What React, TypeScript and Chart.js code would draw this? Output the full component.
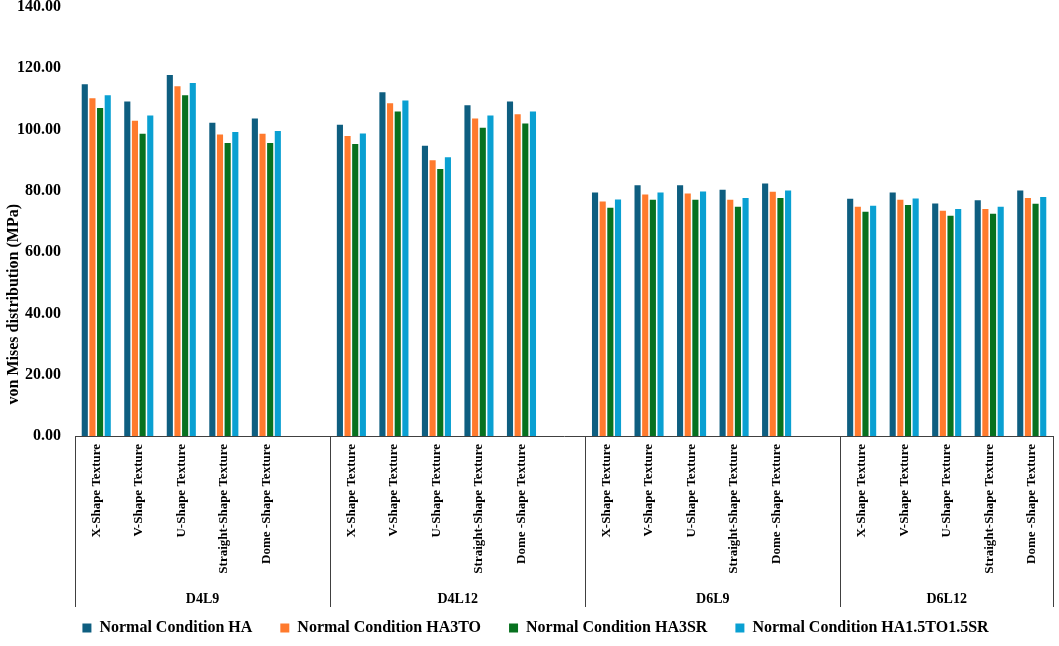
import { useEffect, useRef } from "react";
import { Chart, registerables } from "chart.js";

Chart.register(...registerables);

const FONT = '"Liberation Serif", "Times New Roman", serif';

// 群（下段ラベル）とテクスチャ（上段ラベル）
const groups = ["D4L9", "D4L12", "D6L9", "D6L12"];
const textures = [
    "X-Shape Texture",
    "V-Shape Texture",
    "U-Shape Texture",
    "Straight-Shape Texture",
    "Dome -Shape Texture",
];
const seriesNames = [
    "Normal Condition HA",
    "Normal Condition HA3TO",
    "Normal Condition HA3SR",
    "Normal Condition HA1.5TO1.5SR",
];
const colors = ["#0E5E80", "#FF7A2D", "#07711F", "#0AA0D2"];

// D4L9, D4L12, D6L9, D6L12 の順に 5 テクスチャずつ
const valuesHA = [
    114.8, 109.2, 117.8, 102.2, 103.6,
    101.6, 112.2, 94.7, 107.9, 109.2,
    79.5, 81.8, 81.8, 80.4, 82.4,
    77.4, 79.5, 75.9, 76.9, 80.1,
];
const valuesHA3TO = [
    110.2, 102.9, 114.1, 98.4, 98.6,
    97.9, 108.6, 90.0, 103.6, 105.0,
    76.5, 78.8, 79.1, 77.1, 79.7,
    74.8, 77.1, 73.5, 74.1, 77.7,
];
const valuesHA3SR = [
    107.0, 98.6, 111.2, 95.6, 95.6,
    95.3, 105.9, 87.1, 100.6, 102.0,
    74.5, 77.1, 77.1, 74.8, 77.7,
    73.2, 75.4, 71.9, 72.5, 75.8,
];
const valuesHA15 = [
    111.2, 104.6, 115.2, 99.2, 99.5,
    98.7, 109.5, 91.0, 104.6, 105.9,
    77.2, 79.5, 79.8, 77.7, 80.1,
    75.1, 77.5, 74.1, 74.8, 78.0,
];
const seriesValues = [valuesHA, valuesHA3TO, valuesHA3SR, valuesHA15];

// 群の間に空のカテゴリを 1 つ挟む
const labels: string[] = [];
groups.forEach((_, g) => {
    labels.push(...textures);
    if (g < groups.length - 1) labels.push("");
});
const withGaps = (vals: number[]) => {
    const out: (number | null)[] = [];
    groups.forEach((_, g) => {
        out.push(...vals.slice(g * textures.length, (g + 1) * textures.length));
        if (g < groups.length - 1) out.push(null);
    });
    return out;
};

// 下段の群ラベルと区切り線、縦軸タイトル
const groupAxisPlugin = {
    id: "groupAxis",
    afterDraw(chart: any) {
        const { ctx, chartArea, scales } = chart;
        const x = scales.x;
        const y = scales.y;
        const slot = x.getPixelForValue(1) - x.getPixelForValue(0);
        const step = textures.length + 1;
        const top = x.top;
        const bottom = x.bottom + 15;
        ctx.save();
        ctx.strokeStyle = "#404040";
        ctx.lineWidth = 1;
        const bounds: number[] = [];
        groups.forEach((_, g) => bounds.push(x.getPixelForValue(g * step) - slot / 2));
        bounds.push(chartArea.right);
        bounds.forEach((bx) => {
            const px = Math.round(bx) + 0.5;
            ctx.beginPath();
            ctx.moveTo(px, top);
            ctx.lineTo(px, bottom);
            ctx.stroke();
        });
        ctx.fillStyle = "#000";
        ctx.font = `bold 14px ${FONT}`;
        ctx.textAlign = "center";
        ctx.textBaseline = "middle";
        groups.forEach((name, g) => {
            ctx.fillText(name, (bounds[g] + bounds[g + 1]) / 2, x.bottom + 7);
        });
        // 縦軸タイトル
        ctx.font = `bold 16px ${FONT}`;
        ctx.translate(14, y.getPixelForValue(43));
        ctx.rotate(-Math.PI / 2);
        ctx.fillText("von Mises distribution (MPa)", 0, 0);
        ctx.restore();
    },
};

export default function App() {
    const canvasRef = useRef<HTMLCanvasElement>(null);

    useEffect(() => {
        if (!canvasRef.current) return;
        const ctx = canvasRef.current.getContext("2d");
        if (!ctx) return;

        const chart = new Chart(ctx, {
            type: "bar",
            data: {
                labels,
                datasets: seriesNames.map((name, i) => ({
                    label: name,
                    data: withGaps(seriesValues[i]),
                    backgroundColor: colors[i],
                    borderWidth: 0,
                    categoryPercentage: 0.72,
                    barPercentage: 0.8,
                })),
            },
            options: {
                responsive: false,
                animation: false,
                layout: { padding: { left: 18, right: 6, top: 0, bottom: 0 } },
                plugins: {
                    legend: {
                        position: "bottom",
                        labels: {
                            boxWidth: 9,
                            boxHeight: 9,
                            padding: 28,
                            color: "#000",
                            font: { family: FONT, size: 16, weight: "bold" },
                        },
                    },
                    tooltip: { enabled: false },
                },
                scales: {
                    x: {
                        grid: { display: false, drawTicks: false },
                        border: { display: true, color: "#404040", width: 1 },
                        ticks: {
                            autoSkip: false,
                            minRotation: 90,
                            maxRotation: 90,
                            padding: 8,
                            color: "#000",
                            font: { family: FONT, size: 13, weight: "bold" },
                        },
                        afterFit: (scale: any) => {
                            scale.height = 156;
                        },
                    },
                    y: {
                        min: 0,
                        max: 140,
                        grid: { display: false, drawTicks: false },
                        border: { display: false },
                        ticks: {
                            stepSize: 20,
                            padding: 14,
                            color: "#000",
                            font: { family: FONT, size: 16, weight: "bold" },
                            callback: (v: any) => Number(v).toFixed(2),
                        },
                        afterFit: (scale: any) => {
                            scale.width = 57;
                            scale.paddingTop = 7;
                        },
                    },
                },
            },
            plugins: [groupAxisPlugin],
        });

        return () => {
            chart.destroy();
        };
    }, []);

    return (
        <div style={{ position: "fixed", left: 0, top: 0, width: 1059, height: 646, background: "#fff" }}>
            <canvas ref={canvasRef} width={1059} height={646} style={{ display: "block" }} />
        </div>
    );
}
